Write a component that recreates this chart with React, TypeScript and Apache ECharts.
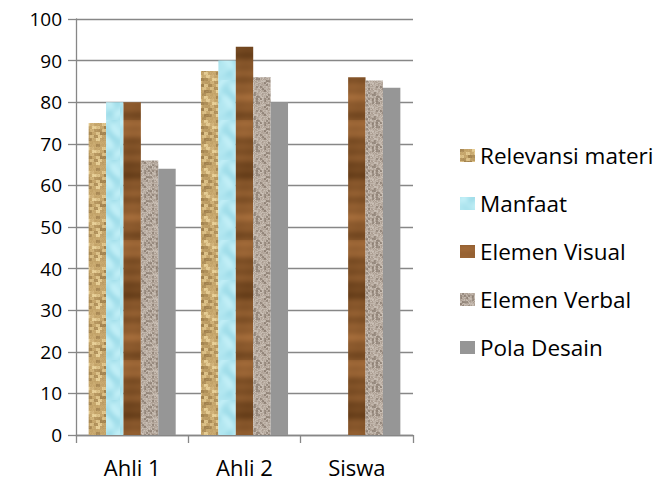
import React, { useEffect, useRef } from "react";
import * as echarts from "echarts";

const categories = ["Ahli 1", "Ahli 2", "Siswa"];
const seriesNames = ["Relevansi materi", "Manfaat", "Elemen Visual", "Elemen Verbal", "Pola Desain"];
const relevansi = [75, 87.5, null];
const manfaat = [80, 90, null];
const elemenVisual = [80, 93.3, 86];
const elemenVerbal = [66, 86, 85.2];
const polaDesain = [64, 80, 83.5];
const yTicks = { min: 0, max: 100, interval: 10 };

function hash(i: number, j: number) {
  const s = Math.sin(i * 12.9898 + j * 78.233) * 43758.5453;
  return s - Math.floor(s);
}

function mix(a: number[], b: number[], t: number) {
  const k = Math.max(0, Math.min(1, t));
  return a.map((v, i) => Math.round(v + (b[i] - v) * k));
}

function texture(w: number, h: number, px: (x: number, y: number) => number[], fallback: string) {
  try {
    const c = document.createElement("canvas");
    c.width = w;
    c.height = h;
    const ctx = c.getContext("2d");
    if (!ctx) return fallback;
    const img = ctx.createImageData(w, h);
    for (let y = 0; y < h; y++) {
      for (let x = 0; x < w; x++) {
        const col = px(x, y);
        const o = (y * w + x) * 4;
        img.data[o] = col[0];
        img.data[o + 1] = col[1];
        img.data[o + 2] = col[2];
        img.data[o + 3] = 255;
      }
    }
    ctx.putImageData(img, 0, 0);
    return { image: c.toDataURL(), repeat: "repeat", imageWidth: w, imageHeight: h } as any;
  } catch (e) {
    return fallback;
  }
}

function buildColors() {
  const burlap = texture(
    24,
    24,
    (x, y) => {
      const by = Math.floor(y / 3);
      const bx = Math.floor((x + (by % 2) * 2) / 4) % 6;
      const n = hash(bx + 1, by + 2);
      const p = hash(x + 0.5, y + 0.25);
      let c = [198, 166, 108];
      if (n > 0.55) c = mix(c, [236, 212, 156], (n - 0.55) * 2.2);
      else if (n < 0.25) c = mix(c, [142, 110, 62], (0.25 - n) * 3);
      c = mix(c, p > 0.5 ? [226, 200, 146] : [170, 138, 82], Math.abs(p - 0.5) * 0.4);
      return c;
    },
    "#c9a865"
  );
  const water = texture(
    40,
    40,
    (x, y) => {
      const v = Math.sin(x * 0.35 + Math.sin(y * 0.2) * 2) + Math.sin(y * 0.3 + Math.cos(x * 0.25) * 1.5);
      return mix([162, 222, 234], [192, 238, 246], (v + 2) / 4);
    },
    "#a9e3ee"
  );
  const wood = texture(
    20,
    120,
    (x, y) => {
      const v =
        Math.sin(y * 0.21) * 0.5 +
        Math.sin(y * 0.071 + 1.3) * 0.8 +
        Math.sin(y * 0.53 + 0.4) * 0.3 +
        Math.sin(x * 0.3 + y * 0.05) * 0.1;
      const t = (v + 1.7) / 3.4;
      return mix([100, 60, 24], [164, 108, 58], t);
    },
    "#8e5a2e"
  );
  const granite = texture(
    24,
    24,
    (x, y) => {
      const n = hash(x + 3.1, y + 7.7);
      const m = hash((x >> 1) + 11, (y >> 1) + 5);
      let c = mix([170, 156, 144], [204, 194, 184], n);
      if (m > 0.82) c = mix(c, [116, 102, 90], 0.5);
      return c;
    },
    "#b3a396"
  );
  return [burlap, water, wood, granite, "#969696"];
}

export default function App() {
  const ref = useRef<HTMLDivElement>(null);
  useEffect(() => {
    if (!ref.current) return;
    const chart = echarts.init(ref.current, undefined, { renderer: "svg" });
    const font = "Open Sans";
    const colors = buildColors();
    const values = [relevansi, manfaat, elemenVisual, elemenVerbal, polaDesain];
    chart.setOption({
      animation: false,
      textStyle: { fontFamily: font },
      grid: { left: 76, right: 244, top: 19, bottom: 46, containLabel: false },
      legend: {
        orient: "vertical",
        left: 455,
        top: 139,
        itemWidth: 15,
        itemHeight: 13,
        itemGap: 25,
        icon: "rect",
        textStyle: { fontFamily: font, fontSize: 22.5, color: "#000" },
        data: seriesNames,
      },
      xAxis: {
        type: "category",
        data: categories,
        boundaryGap: true,
        axisLine: { show: true, lineStyle: { color: "#878787", width: 1.3 } },
        axisTick: { show: true, length: 8, lineStyle: { color: "#878787", width: 1.3 } },
        axisLabel: { fontFamily: font, fontSize: 22, color: "#000", margin: 21 },
      },
      yAxis: {
        type: "value",
        min: yTicks.min,
        max: yTicks.max,
        interval: yTicks.interval,
        axisLine: { show: true, lineStyle: { color: "#878787", width: 1.3 } },
        axisTick: { show: true, length: 8, lineStyle: { color: "#878787", width: 1.3 } },
        splitLine: { show: true, lineStyle: { color: "#878787", width: 1.3 } },
        axisLabel: { fontFamily: font, fontSize: 19, color: "#000", margin: 14 },
      },
      series: seriesNames.map((name, i) => ({
        name,
        type: "bar",
        data: values[i],
        barGap: "0%",
        barCategoryGap: "22.5%",
        itemStyle: { color: colors[i] },
      })),
    });
    return () => chart.dispose();
  }, []);
  return <div ref={ref} style={{ width: 657, height: 481, position: "absolute", left: 0, top: 0 }} />;
}
